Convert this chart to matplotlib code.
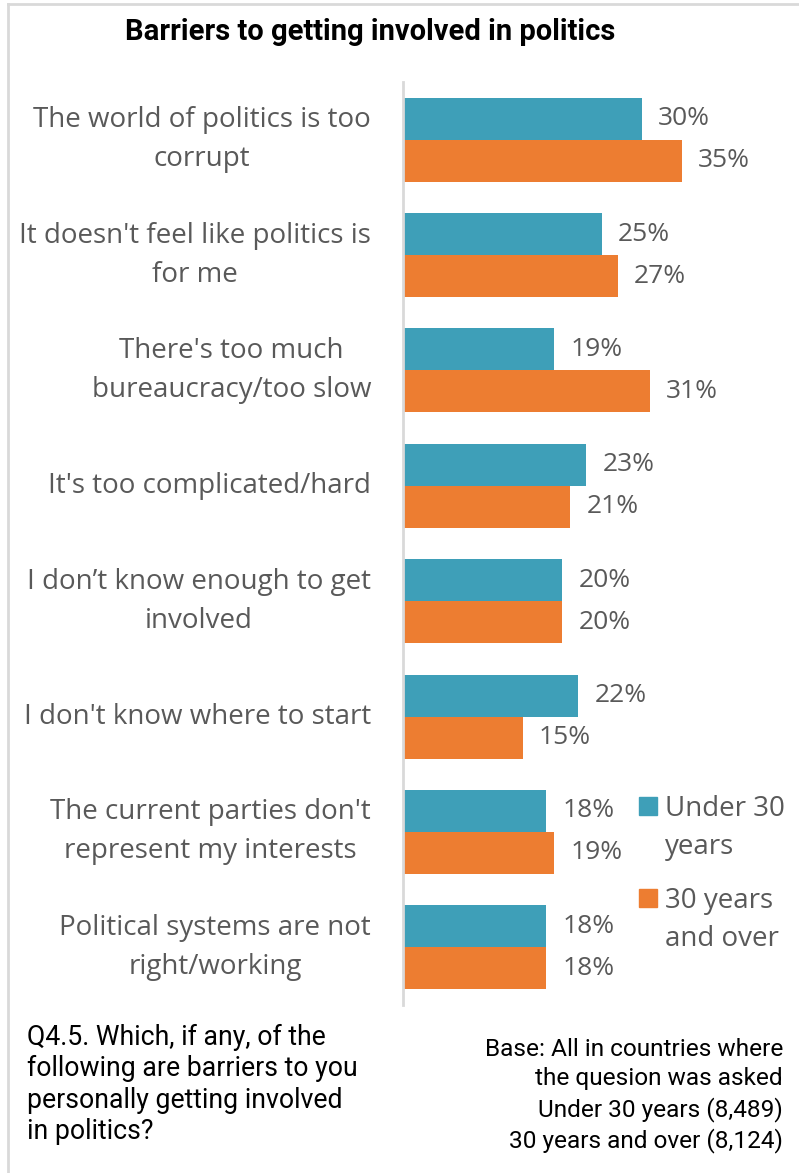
import numpy as np
import matplotlib.pyplot as plt
import matplotlib.transforms as mtransforms
from matplotlib.patches import Rectangle

# survey answers, top to bottom
categories = ["The world of politics is too\ncorrupt",
              "It doesn't feel like politics is\nfor me",
              "There's too much\nbureaucracy/too slow",
              "It's too complicated/hard",
              "I don\u2019t know enough to get\ninvolved",
              "I don't know where to start",
              "The current parties don't\nrepresent my interests",
              "Political systems are not\nright/working"]
under30 = [30, 25, 19, 23, 20, 22, 18, 18]
over30 = [35, 27, 31, 21, 20, 15, 19, 18]
series_names = ["Under 30\nyears", "30 years\nand over"]

teal = "#3E9FB8"
orange = "#ED7D31"
grey_txt = "#595959"

fig = plt.figure(figsize=(7.99, 11.73), dpi=100)
W, H = 799, 1173

# plot area: x from 403px to right edge, y from 82px to 1005px
ax = fig.add_axes([403 / W, 1 - 1005 / H, 1 - 403 / W, 923 / H])

y = np.arange(len(categories))
bh = 0.364
ax.barh(y - bh / 2, under30, height=bh, color=teal)
ax.barh(y + bh / 2, over30, height=bh, color=orange)

for i in range(len(categories)):
    ax.text(under30[i] + 2.0, y[i] - bh / 2, f"{under30[i]}%", va="center", ha="left",
            fontsize=19, color=grey_txt, family="Open Sans")
    ax.text(over30[i] + 2.0, y[i] + bh / 2, f"{over30[i]}%", va="center", ha="left",
            fontsize=19, color=grey_txt, family="Open Sans")

ax.set_xlim(0, 396 / 7.97)
ax.set_ylim(len(categories) - 0.5, -0.5)
ax.set_xticks([])
ax.set_yticks(y)
ax.set_yticklabels(categories, fontsize=20, color=grey_txt, family="Open Sans",
                   linespacing=1.52, multialignment="center")
# nudge labels down a little
shift = mtransforms.ScaledTranslation(0, -0.025, fig.dpi_scale_trans)
for t in ax.get_yticklabels():
    t.set_verticalalignment("center")
    t.set_transform(t.get_transform() + shift)
ax.tick_params(axis="y", length=0, pad=23)
for s in ["top", "right", "bottom"]:
    ax.spines[s].set_visible(False)
ax.spines["left"].set_color("#D9D9D9")
ax.spines["left"].set_linewidth(2)

# legend drawn by hand so the square sits at the first line
leg_colors = [teal, orange]
leg_y = [806, 898]
for c, ly, name in zip(leg_colors, leg_y, series_names):
    fig.patches.append(Rectangle((639 / W, 1 - (ly + 9) / H), 18 / W, 18 / H,
                                 transform=fig.transFigure, color=c))
    fig.text(665 / W, 1 - (ly + 22) / H, name, ha="left", va="center", fontsize=20,
             color=grey_txt, family="Open Sans", linespacing=1.52)

fig.text(370 / W, 1 - 32 / H, "Barriers to getting involved in politics", ha="center",
         va="center", fontsize=21, fontweight="bold", family="Roboto", color="black")

fig.text(27 / W, 1 - 1084.5 / H,
         "Q4.5. Which, if any, of the\nfollowing are barriers to you\npersonally getting involved\nin politics?",
         ha="left", va="center", fontsize=19.2, family="Roboto", color="black", linespacing=1.2)
fig.text(783 / W, 1 - 1095.5 / H,
         "Base: All in countries where\nthe quesion was asked\nUnder 30 years (8,489)\n30 years and over (8,124)",
         ha="right", va="center", fontsize=17.6, family="Roboto", color="black", linespacing=1.35,
         multialignment="right")

# light frame around the chart
fig.add_artist(plt.Line2D([8 / W, 8 / W], [0, 1 - 4 / H], transform=fig.transFigure,
                          color="#D9D9D9", lw=2))
fig.add_artist(plt.Line2D([8 / W, 1], [1 - 4 / H, 1 - 4 / H], transform=fig.transFigure,
                          color="#D9D9D9", lw=2))

fig.savefig("out.png", dpi=100)
